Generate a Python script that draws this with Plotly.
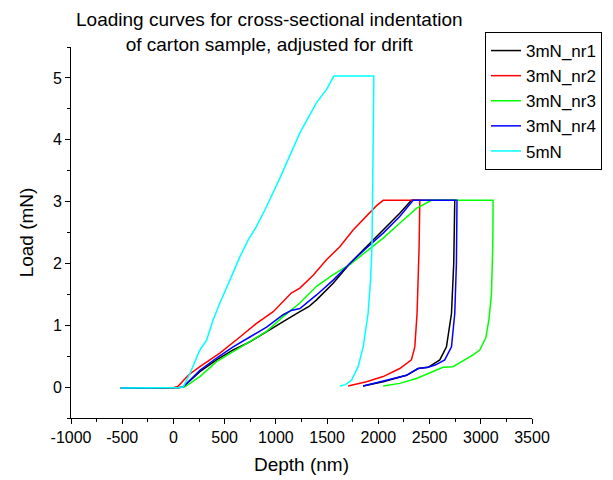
import plotly.graph_objects as go

# ---- data (depth in nm, load in mN) ----
names = ["3mN_nr1", "3mN_nr2", "3mN_nr3", "3mN_nr4", "5mN"]
colors = ["#000000", "#FF0000", "#00FF00", "#0000FF", "#00FFFF"]

depth_nr1 = [-515, -300, 0, 60, 96, 258, 421, 583, 746, 909, 1071, 1234, 1320, 1397, 1559, 1722,
             1884, 2047, 2209, 2323, 2746, 2742, 2736, 2714, 2665, 2600, 2486, 2388, 2275, 2047, 1851]
load_nr1 = [-0.016, -0.016, -0.012, -0.005, 0.005, 0.25, 0.44, 0.60, 0.73, 0.90, 1.06, 1.22, 1.30, 1.41,
            1.68, 2.00, 2.27, 2.54, 2.81, 3.02, 3.02, 2.60, 2.00, 1.19, 0.65, 0.44, 0.32, 0.30, 0.19, 0.086, 0.016]

depth_nr2 = [-515, -300, 0, 47, 150, 258, 453, 649, 811, 974, 1104, 1150, 1234, 1364, 1494, 1624,
             1754, 1884, 1980, 2047, 2405, 2402, 2398, 2378, 2356, 2323, 2209, 2047, 1884, 1705]
load_nr2 = [-0.016, -0.016, -0.012, 0.016, 0.20, 0.33, 0.55, 0.81, 1.03, 1.22, 1.44, 1.52, 1.60, 1.81,
            2.06, 2.27, 2.54, 2.76, 2.93, 3.02, 3.02, 2.70, 2.27, 1.19, 0.65, 0.44, 0.30, 0.17, 0.086, 0.016]

depth_nr3 = [-515, -300, 0, 60, 112, 258, 421, 583, 746, 909, 1071, 1234, 1397, 1559, 1722, 1884,
             2047, 2209, 2372, 2519, 3120, 3119, 3117, 3104, 3080, 3050, 2990, 2925, 2729, 2632,
             2535, 2372, 2209, 2047]
load_nr3 = [-0.016, -0.016, -0.012, -0.005, 0.005, 0.17, 0.41, 0.57, 0.73, 0.90, 1.14, 1.36, 1.63, 1.82,
            1.98, 2.19, 2.41, 2.65, 2.89, 3.02, 3.02, 2.60, 2.27, 1.50, 1.10, 0.80, 0.60, 0.52, 0.33, 0.32,
            0.25, 0.14, 0.06, 0.016]

depth_nr4 = [-515, -300, 0, 60, 96, 258, 421, 583, 746, 909, 1071, 1150, 1234, 1397, 1559, 1722,
             1884, 2047, 2209, 2340, 2768, 2765, 2762, 2746, 2714, 2648, 2560, 2486, 2388, 2275, 2047, 1851]
load_nr4 = [-0.016, -0.016, -0.012, -0.005, 0.005, 0.27, 0.47, 0.65, 0.81, 0.97, 1.17, 1.24, 1.27, 1.49,
            1.73, 2.00, 2.25, 2.49, 2.76, 3.02, 3.02, 2.60, 2.00, 1.19, 0.65, 0.44, 0.36, 0.32, 0.30, 0.19,
            0.10, 0.016]

depth_5mN = [-515, -300, 0, 60, 96, 161, 258, 324, 388, 453, 551, 649, 730, 811, 909, 1039, 1234,
             1397, 1494, 1566, 1956, 1952, 1946, 1938, 1924, 1900, 1852, 1803, 1738, 1680, 1624]
load_5mN = [-0.016, -0.016, -0.012, -0.005, 0.005, 0.22, 0.60, 0.76, 1.09, 1.36, 1.73, 2.11, 2.38, 2.60,
            2.92, 3.38, 4.11, 4.60, 4.81, 5.03, 5.03, 4.00, 3.35, 2.27, 1.73, 1.19, 0.65, 0.33, 0.11, 0.04, 0.016]

x_ticks = [-1000, -500, 0, 500, 1000, 1500, 2000, 2500, 3000, 3500]
x_tick_labels = ["-1000", "-500", "0", "500", "1000", "1500", "2000", "2500", "3000", "3500"]
y_ticks = [0, 1, 2, 3, 4, 5]
y_tick_labels = ["0", "1", "2", "3", "4", "5"]

title_lines = ["Loading curves for cross-sectional indentation", "of carton sample, adjusted for drift"]

series_x = [depth_nr1, depth_nr2, depth_nr3, depth_nr4, depth_5mN]
series_y = [load_nr1, load_nr2, load_nr3, load_nr4, load_5mN]

FONT = "Arial, Liberation Sans, sans-serif"

fig = go.Figure()
for name, col, xs, ys in zip(names, colors, series_x, series_y):
    fig.add_trace(go.Scatter(x=xs, y=ys, mode="lines", name=name,
                             line=dict(color=col, width=1.5)))

fig.update_layout(
    width=613, height=480,
    margin=dict(l=71, r=81, t=47, b=62, autoexpand=False),
    paper_bgcolor="white", plot_bgcolor="white",
    font=dict(family=FONT, color="#000000"),
    legend=dict(x=(485 - 71) / 461, y=(480 - 62 - 32) / 371, xanchor="left", yanchor="top",
                bordercolor="#000000", borderwidth=1, bgcolor="white",
                font=dict(size=17, family=FONT), tracegroupgap=0),
    showlegend=True,
)
fig.add_annotation(text="<br>".join(title_lines), xref="paper", yref="paper",
                   x=(269 - 71) / 461, y=(480 - 62 - 7) / 371, xanchor="center", yanchor="top",
                   showarrow=False, align="center",
                   font=dict(size=19, family=FONT, color="#000000"))
fig.update_xaxes(
    range=[-1000, 3500], tickvals=x_ticks, ticktext=x_tick_labels,
    showgrid=False, zeroline=False, automargin=False,
    showline=True, linecolor="#000000", linewidth=1,
    ticks="outside", ticklen=5, tickcolor="#000000", tickwidth=1,
    minor=dict(ticks="outside", ticklen=3, dtick=250, tickcolor="#000000", showgrid=False),
    tickfont=dict(size=16, family=FONT),
    title=dict(text="Depth (nm)", font=dict(size=19, family=FONT), standoff=12),
)
fig.update_yaxes(
    range=[-0.5, 5.5], tickvals=y_ticks, ticktext=y_tick_labels,
    showgrid=False, zeroline=False, automargin=False,
    showline=True, linecolor="#000000", linewidth=1,
    ticks="outside", ticklen=5, tickcolor="#000000", tickwidth=1,
    minor=dict(ticks="outside", ticklen=3, dtick=0.5, tickcolor="#000000", showgrid=False),
    tickfont=dict(size=16, family=FONT),
    title=dict(text="Load (mN)", font=dict(size=19, family=FONT), standoff=14),
)

fig.write_html("out.html",
               config={"displayModeBar": False},
               post_script="document.body.style.margin='0px';document.body.style.padding='0px';")
